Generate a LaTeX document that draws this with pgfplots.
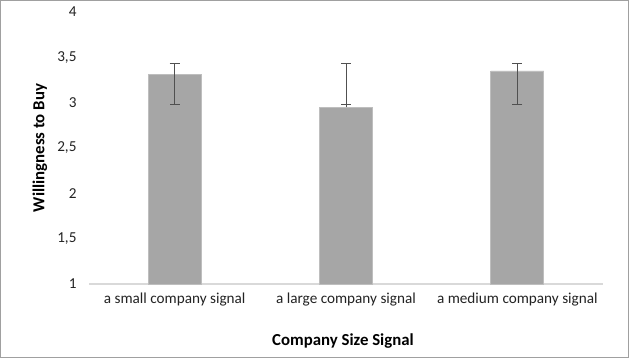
\documentclass[border=0pt]{standalone}
\usepackage{pgfplots}
\pgfplotsset{compat=1.18}
\usepackage{fontspec}
\setmainfont{Carlito}
\definecolor{barfill}{RGB}{166,166,166}
\definecolor{baredge}{RGB}{190,190,190}
\definecolor{errcol}{RGB}{80,80,80}
\definecolor{axcol}{RGB}{217,217,217}
\definecolor{txtcol}{RGB}{35,35,35}
\definecolor{framecol}{RGB}{160,160,160}
\begin{document}
\begin{tikzpicture}
\useasboundingbox (0,0) rectangle (630bp,360bp);
\fill[white] (0,0) rectangle (630bp,360bp);
\draw[framecol, line width=1bp] (0.5bp,2.5bp) rectangle (628bp,359.5bp);
\begin{axis}[
  at={(89bp,76bp)}, anchor=south west,
  scale only axis, width=514bp, height=272bp,
  xmin=-0.5, xmax=2.5, ymin=1, ymax=4,
  ytick={1,1.5,2,2.5,3,3.5,4},
  xtick={0,1,2},
  xticklabels={a small company signal, a large company signal, a medium company signal},
  axis x line*=bottom, axis y line*=left,
  x axis line style={draw=axcol, line width=1.5bp, -},
  y axis line style={draw=none},
  major tick length=0pt,
  /pgf/number format/.cd, use comma, fixed, assume math mode=true,
  /pgfplots/.cd,
  ticklabel style={font=\fontsize{15.2bp}{18bp}\selectfont, text=txtcol},
  yticklabel style={xshift=-9bp},
  xticklabel style={yshift=-5bp},
  xlabel={Company Size Signal},
  ylabel={Willingness to Buy},
  every axis x label/.style={at={(axis description cs:0.5,0)}, xshift=-3bp, yshift=-56.7bp, anchor=center, font=\bfseries\fontsize{16.8bp}{20bp}\selectfont, text=black},
  every axis y label/.style={at={(axis description cs:-0.0953,0.5)}, rotate=90, anchor=center, font=\bfseries\fontsize{16.8bp}{20bp}\selectfont, text=black},
  clip=false,
]
\addplot[ybar, bar width=53bp, fill=barfill, draw=baredge, line width=0.8bp,
  error bars/.cd, y dir=both, y explicit,
  error bar style={draw=errcol, line width=1bp},
  error mark options={rotate=90, mark size=5bp, line width=1bp, draw=errcol}]
coordinates {
  (0,3.31) += (0,0.125) -= (0,0.325)
  (1,2.95) += (0,0.485) -= (0,-0.035)
  (2,3.35) += (0,0.085) -= (0,0.365)
};
\end{axis}
\end{tikzpicture}
\end{document}
